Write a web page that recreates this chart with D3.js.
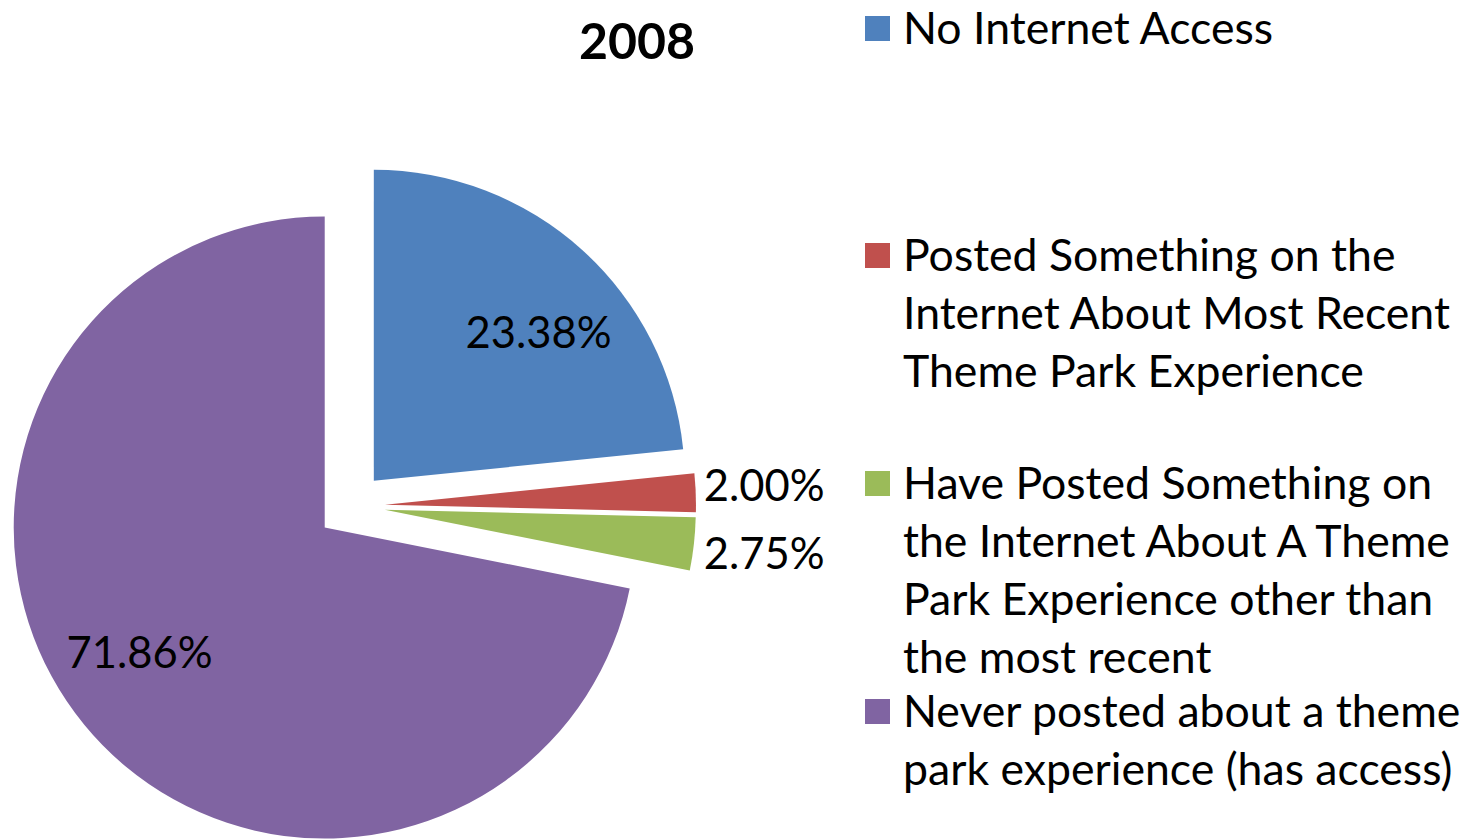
<!DOCTYPE html>
<html>
<head>
<meta charset="utf-8">
<script src="https://cdn.jsdelivr.net/npm/d3@7/dist/d3.min.js"></script>
<style>
  html, body { margin: 0; padding: 0; background: #fff; }
  svg { display: block; }
  text { font-family: Lato, "Open Sans", sans-serif; fill: #000; }
</style>
</head>
<body>
<svg id="chart" width="1480" height="839"></svg>
<script>
// Survey shares, 2008
const title = "2008";
const categories = [
  "No Internet Access",
  "Posted Something on the Internet About Most Recent Theme Park Experience",
  "Have Posted Something on the Internet About A Theme Park Experience other than the most recent",
  "Never posted about a theme park experience (has access)"
];
const legendLines = [
  ["No Internet Access"],
  ["Posted Something on the", "Internet About Most Recent", "Theme Park Experience"],
  ["Have Posted Something on", "the Internet About A Theme", "Park Experience other than", "the most recent"],
  ["Never posted about a theme", "park experience (has access)"]
];
const values = [23.38, 2.00, 2.75, 71.86];
const colors = ["#4F81BD", "#C0504D", "#9BBB59", "#8064A2"];

const svg = d3.select("#chart");

// Pie geometry
const cx = 351, cy = 506;
const radius = 311;
const explode = 34;
const labelFont = 43.5;
const legendFont = 44.6;

const pie = d3.pie().sort(null).value(d => d);
const arcs = pie(values);
const arc = d3.arc().innerRadius(0).outerRadius(radius);

const mid = a => (a.startAngle + a.endAngle) / 2;
const offset = (ang, r) => [Math.sin(ang) * r, -Math.cos(ang) * r];

const g = svg.append("g").attr("transform", `translate(${cx},${cy})`);

const slices = g.selectAll("g.slice")
  .data(arcs)
  .enter().append("g")
  .attr("class", "slice")
  .attr("transform", d => {
    const [dx, dy] = offset(mid(d), explode);
    return `translate(${dx},${dy})`;
  });

slices.append("path")
  .attr("d", arc)
  .attr("fill", (d, i) => colors[i]);

const fmt = v => v.toFixed(2) + "%";

// Large slices: label inside, small slices: label outside at the rim
const insideThreshold = 10;
const labelRadius = radius * 0.715;
const labelTurn = 0.1;

arcs.forEach(d => {
  if (d.value < insideThreshold) return;
  const [ex, ey] = offset(mid(d), explode);
  const [lx, ly] = offset(mid(d) + labelTurn, labelRadius);
  g.append("text")
    .attr("x", ex + lx)
    .attr("y", ey + ly)
    .attr("text-anchor", "middle")
    .attr("dominant-baseline", "central")
    .attr("font-size", labelFont)
    .text(fmt(d.value));
});

// Outside labels, spread vertically so they do not collide
const outside = arcs.filter(d => d.value < insideThreshold).map(d => {
  const [ex, ey] = offset(mid(d), explode);
  const [px, py] = offset(mid(d), radius);
  return { d, x: ex + px + 8, y: ey + py };
});
const minGap = 68;
const meanY = d3.mean(outside, o => o.y);
outside.forEach((o, k) => { o.y = meanY + (k - (outside.length - 1) / 2) * minGap; });
const maxX = d3.max(outside, o => o.x);
outside.forEach(o => {
  g.append("text")
    .attr("x", maxX)
    .attr("y", o.y)
    .attr("dominant-baseline", "central")
    .attr("font-size", labelFont)
    .text(fmt(o.d.value));
});

// Title
svg.append("text")
  .attr("x", 637)
  .attr("y", 59)
  .attr("text-anchor", "middle")
  .attr("font-size", 50)
  .attr("font-weight", "bold")
  .text(title);

// Legend
const legendX = 865;
const textX = 903;
const lineH = 58;
const entryBaselines = [44, 271, 499, 727];
const sq = 25;

legendLines.forEach((lines, i) => {
  const base = entryBaselines[i];
  svg.append("rect")
    .attr("x", legendX)
    .attr("y", base - 28)
    .attr("width", sq)
    .attr("height", sq)
    .attr("fill", colors[i]);
  const t = svg.append("text")
    .attr("x", textX)
    .attr("y", base)
    .attr("font-size", legendFont);
  lines.forEach((ln, k) => {
    t.append("tspan")
      .attr("x", textX)
      .attr("dy", k === 0 ? 0 : lineH)
      .text(ln);
  });
});
</script>
</body>
</html>
